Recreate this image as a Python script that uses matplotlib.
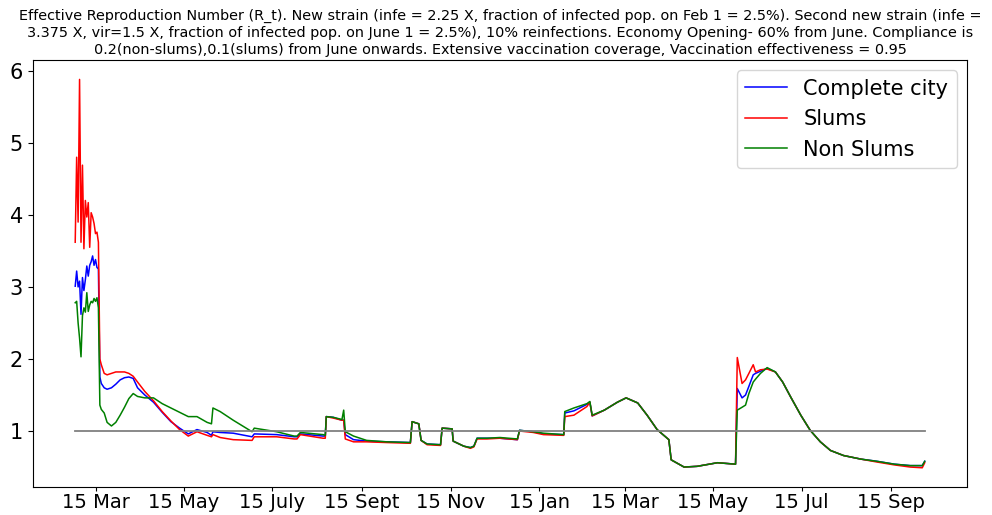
import numpy as np
import matplotlib
matplotlib.use("Agg")
import matplotlib.pyplot as plt

start_date = np.datetime64("2020-03-01")

# days since 1 Mar 2020
days = [0, 1, 2, 3, 4, 5, 6, 7, 8, 9, 10, 11, 12, 13, 14, 15, 16,
        17, 18, 20, 22, 25, 28, 31, 34, 37, 40, 43, 48, 54, 60, 66, 72, 78,
        84, 91, 94, 95, 100, 109, 122, 123.5, 139, 151, 153, 155.3, 171, 172.5,
        173.2, 178, 184, 185.2, 186.3, 192, 201, 215, 231.2, 232.4, 237, 238.6,
        242.7, 252, 253.1, 260, 260.7, 268, 272.6, 275, 277.2, 284, 293, 305,
        306.5, 316, 323, 337, 337.7, 344, 353, 355, 356.6, 365, 374, 380, 388,
        394.5, 401.4, 409.5, 411.1, 420, 429, 443, 455.5, 456.7, 460, 462.4,
        464.7, 467.7, 469.3, 472.7, 477.3, 483, 488, 493.6, 500.5, 507, 514,
        521, 530, 542, 553, 565, 576, 584.3, 586]

complete_city = [3.01, 3.22, 3.00, 3.08, 2.62, 3.13, 2.95, 3.10, 3.29, 3.15, 3.30, 3.35, 3.43, 3.30, 3.38, 3.27, 3.25,
                 1.75, 1.66, 1.60, 1.58, 1.60, 1.65, 1.71, 1.74, 1.75, 1.73, 1.60, 1.50, 1.40, 1.26, 1.13, 1.04, 0.96,
                 1.02, 0.98, 0.94, 0.99, 0.98, 0.97, 0.92, 0.96, 0.95, 0.92, 0.92, 0.96, 0.93, 0.93,
                 1.20, 1.19, 1.15, 1.15, 0.95, 0.88, 0.86, 0.85, 0.84, 1.13, 1.10, 0.87,
                 0.82, 0.81, 1.04, 1.03, 0.86, 0.79, 0.77, 0.79, 0.90, 0.90, 0.90, 0.88,
                 1.01, 0.99, 0.96, 0.95, 1.25, 1.28, 1.37, 1.40, 1.21, 1.29, 1.40, 1.46, 1.39,
                 1.22, 1.02, 0.88, 0.60, 0.50, 0.51, 0.56, 0.54, 1.59, 1.46, 1.50,
                 1.62, 1.78, 1.80, 1.83, 1.87, 1.82, 1.68, 1.47, 1.22, 1.01, 0.85,
                 0.73, 0.66, 0.61, 0.58, 0.54, 0.52, 0.52, 0.58]

slums = [3.62, 4.80, 3.90, 5.88, 3.62, 4.69, 3.53, 4.20, 3.97, 4.17, 3.55, 4.03, 3.97, 3.88, 3.74, 3.76, 3.62,
         2.00, 1.92, 1.80, 1.78, 1.80, 1.82, 1.82, 1.82, 1.80, 1.76, 1.68, 1.55, 1.42, 1.27, 1.14, 1.02, 0.93,
         0.99, 0.94, 0.92, 0.95, 0.91, 0.88, 0.87, 0.92, 0.92, 0.89, 0.89, 0.95, 0.90, 0.90,
         1.20, 1.18, 1.15, 1.15, 0.89, 0.85, 0.85, 0.84, 0.83, 1.13, 1.10, 0.87,
         0.81, 0.80, 1.04, 1.03, 0.86, 0.79, 0.76, 0.78, 0.89, 0.89, 0.90, 0.88,
         1.00, 0.98, 0.95, 0.94, 1.20, 1.22, 1.34, 1.40, 1.21, 1.29, 1.40, 1.46, 1.39,
         1.22, 1.02, 0.88, 0.60, 0.50, 0.51, 0.56, 0.54, 2.02, 1.66, 1.71,
         1.80, 1.92, 1.82, 1.85, 1.86, 1.82, 1.68, 1.47, 1.22, 1.01, 0.85,
         0.73, 0.66, 0.61, 0.57, 0.53, 0.50, 0.49, 0.56]

non_slums = [2.78, 2.80, 2.50, 2.29, 2.03, 2.60, 2.71, 2.65, 2.92, 2.66, 2.75, 2.80, 2.78, 2.84, 2.80, 2.85, 2.71,
             1.36, 1.30, 1.25, 1.12, 1.07, 1.12, 1.22, 1.33, 1.45, 1.52, 1.48, 1.46, 1.46, 1.38, 1.32, 1.26, 1.20,
             1.20, 1.12, 1.10, 1.32, 1.27, 1.15, 0.99, 1.04, 0.99, 0.93, 0.93, 0.98, 0.95, 0.94,
             1.20, 1.19, 1.16, 1.29, 0.99, 0.93, 0.87, 0.85, 0.84, 1.13, 1.10, 0.87,
             0.82, 0.81, 1.04, 1.03, 0.86, 0.79, 0.77, 0.79, 0.90, 0.90, 0.91, 0.89,
             1.01, 0.99, 0.97, 0.95, 1.27, 1.32, 1.38, 1.41, 1.22, 1.29, 1.40, 1.46, 1.39,
             1.22, 1.02, 0.88, 0.60, 0.50, 0.51, 0.56, 0.54, 1.29, 1.33, 1.36,
             1.52, 1.68, 1.72, 1.80, 1.88, 1.82, 1.68, 1.47, 1.22, 1.01, 0.85,
             0.73, 0.66, 0.61, 0.58, 0.54, 0.52, 0.52, 0.58]

tick_dates = ["2020-03-15", "2020-05-15", "2020-07-15", "2020-09-15", "2020-11-15",
              "2021-01-15", "2021-03-15", "2021-05-15", "2021-07-15", "2021-09-15"]
tick_labels = ["15 Mar", "15 May", "15 July", "15 Sept", "15 Nov",
               "15 Jan", "15 Mar", "15 May", "15 Jul", "15 Sep"]

title = ("Effective Reproduction Number (R_t). New strain (infe = 2.25 X, fraction of infected pop. on Feb 1 = 2.5%). Second new strain (infe =\n"
         "3.375 X, vir=1.5 X, fraction of infected pop. on June 1 = 2.5%), 10% reinfections. Economy Opening- 60% from June. Compliance is\n"
         "0.2(non-slums),0.1(slums) from June onwards. Extensive vaccination coverage, Vaccination effectiveness = 0.95")

fig = plt.figure(figsize=(9.92, 5.15), dpi=100)
ax = fig.add_axes([0.033, 0.054, 0.942, 0.8295])

ax.plot(days, complete_city, color="blue", lw=1.1, label="Complete city")
ax.plot(days, slums, color="red", lw=1.1, label="Slums")
ax.plot(days, non_slums, color="green", lw=1.1, label="Non Slums")
ax.plot([days[0], days[-1]], [1, 1], color="gray", lw=1.3)

tick_pos = [(np.datetime64(d) - start_date).astype(int) for d in tick_dates]
ax.set_xticks(tick_pos)
ax.set_xticklabels(tick_labels)
ax.tick_params(axis="x", labelsize=14, length=3, pad=1.5)
ax.tick_params(axis="y", labelsize=15)

ax.legend(loc="upper right", fontsize=15)
ax.set_title(title, fontsize=10.35, pad=4, linespacing=1.3)

plt.savefig("out.png", dpi=100)
